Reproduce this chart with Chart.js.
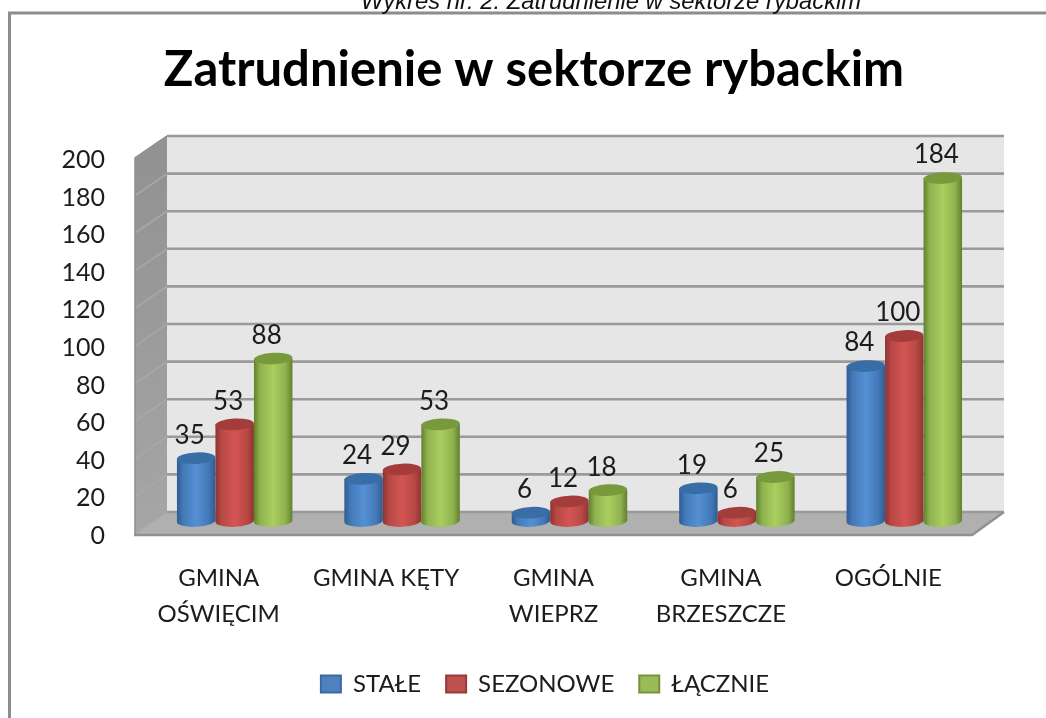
<!DOCTYPE html>
<html><head><meta charset="utf-8">
<style>
html,body{margin:0;padding:0;background:#fff;width:1046px;height:718px;overflow:hidden}
#cap{position:absolute;left:0;top:-11px;width:1046px;text-align:center;font:italic 23.8px/24px "Liberation Sans",sans-serif;color:#111;white-space:nowrap;transform:translateX(88px);filter:blur(0.4px)}
canvas{display:block;position:absolute;left:0;top:0;filter:blur(0.6px)}
</style>
<script src="https://cdn.jsdelivr.net/npm/chart.js@4"></script>
</head><body>
<canvas id="c" width="1046" height="718"></canvas>
<div id="cap">Wykres nr. 2: Zatrudnienie w sektorze rybackim</div>
<script>
const categories = [['GMINA','OŚWIĘCIM'],['GMINA KĘTY'],['GMINA','WIEPRZ'],['GMINA','BRZESZCZE'],['OGÓLNIE']];
const stale = [35,24,6,19,84];
const sezonowe = [53,29,12,6,100];
const lacznie = [88,53,18,25,184];
const seriesNames = ['STAŁE','SEZONOWE','ŁĄCZNIE'];
const yTicks = {min:0,max:200,step:20};
const titleText = 'Zatrudnienie w sektorze rybackim';

const palette = [
  {fill:'#4f81bd',border:'#3a6aa3',dark:'#2f5c92',mid:'#4479b8',light:'#5590d4',top:'#396da6'},
  {fill:'#c0504d',border:'#98393a',dark:'#8c3431',mid:'#b84845',light:'#d25553',top:'#a33d3b'},
  {fill:'#9bbb59',border:'#76923c',dark:'#62802e',mid:'#90b24f',light:'#abce60',top:'#789a3d'}
];
const F=-2, DX=32, DY=-22+F, MX=16, MY=-10+F, BASEY=-13+F, RY=5.8, TILT=-0.05;

const scene = {
  id:'scene',
  afterLayout(chart){
    if(chart.titleBlock){chart.titleBlock.left+=48;chart.titleBlock.right+=48;}
    if(chart.legend){chart.legend.left+=59;chart.legend.right+=59;}
  },
  beforeDraw(chart){
    const c=chart.ctx; c.save();
    c.fillStyle='#fff'; c.fillRect(0,0,chart.width,chart.height);
    c.strokeStyle='#8c8c8c'; c.lineWidth=3;
    c.beginPath(); c.moveTo(9.5,730); c.lineTo(9.5,13); c.lineTo(1046,13); c.stroke();
    c.restore();
  },
  beforeDatasetsDraw(chart){
    const c=chart.ctx, y=chart.scales.y, a=chart.chartArea;
    const yT=y.getPixelForValue(yTicks.max), y0=y.getPixelForValue(yTicks.min);
    const fT=yT+F, f0=y0+F;
    c.save();
    c.fillStyle='#e6e6e6';
    c.fillRect(a.left+DX,yT+DY,a.right-a.left,y0-yT);
    const g=c.createLinearGradient(0,yT,0,y0);
    g.addColorStop(0,'#929292'); g.addColorStop(1,'#a6a6a6');
    c.fillStyle=g;
    c.beginPath(); c.moveTo(a.left,fT); c.lineTo(a.left+DX,yT+DY); c.lineTo(a.left+DX,y0+DY); c.lineTo(a.left,f0); c.closePath(); c.fill();
    c.fillStyle='#b0b0b0';
    c.beginPath(); c.moveTo(a.left+DX,y0+DY); c.lineTo(a.right+DX,y0+DY); c.lineTo(a.right,f0); c.lineTo(a.left,f0); c.closePath(); c.fill();
    y.ticks.forEach(t=>{
      const p=y.getPixelForValue(t.value);
      c.strokeStyle='#a9a9a9'; c.lineWidth=1.5;
      c.beginPath(); c.moveTo(a.left,p+F); c.lineTo(a.left+DX,p+DY); c.stroke();
      c.strokeStyle='#9a9a9a'; c.lineWidth=2.6;
      c.beginPath(); c.moveTo(a.left+DX,p+DY); c.lineTo(a.right+DX,p+DY); c.stroke();
    });
    c.strokeStyle='#919191'; c.lineWidth=2.6;
    c.beginPath(); c.moveTo(a.left-1,f0+1); c.lineTo(a.right,f0+1); c.lineTo(a.right+DX,y0+DY); c.stroke();
    c.lineWidth=1.5; c.strokeStyle='#8f8f8f';
    c.beginPath(); c.moveTo(a.left,f0); c.lineTo(a.left,fT); c.lineTo(a.left+DX,yT+DY); c.stroke();
    c.restore();
  },
  beforeDatasetDraw(){ return false; },
  afterDatasetsDraw(chart){
    const c=chart.ctx;
    c.save();
    chart.data.datasets.forEach((ds,i)=>{
      const p=palette[i];
      chart.getDatasetMeta(i).data.forEach(bar=>{
        const cx=bar.x+MX, w=bar.width, top=bar.y+MY, base=bar.base+BASEY, l=cx-w/2, r=cx+w/2;
        const g=c.createLinearGradient(l,0,r,0);
        g.addColorStop(0,p.dark); g.addColorStop(.16,p.mid); g.addColorStop(.5,p.light); g.addColorStop(.82,p.mid); g.addColorStop(1,p.dark);
        c.fillStyle=g;
        c.beginPath(); c.moveTo(l,top); c.lineTo(l,base);
        c.ellipse(cx,base,w/2,RY,TILT,Math.PI,0,true);
        c.lineTo(r,top); c.closePath(); c.fill();
        c.fillStyle=p.top;
        c.beginPath(); c.ellipse(cx,top,w/2,RY,TILT,0,Math.PI*2); c.fill();
      });
    });
    c.fillStyle='#1c1c1c'; c.font='26px Lato'; c.textAlign='center'; c.textBaseline='middle';
    chart.data.datasets.forEach((ds,i)=>{
      chart.getDatasetMeta(i).data.forEach((bar,j)=>{
        c.fillText(String(ds.data[j]),bar.x+MX-6.5,bar.y+MY-23);
      });
    });
    c.restore();
  }
};

new Chart(document.getElementById('c'),{
  type:'bar',
  plugins:[scene],
  data:{labels:categories,datasets:[
    {label:seriesNames[0],data:stale,backgroundColor:palette[0].fill,borderColor:palette[0].border,borderWidth:2},
    {label:seriesNames[1],data:sezonowe,backgroundColor:palette[1].fill,borderColor:palette[1].border,borderWidth:2},
    {label:seriesNames[2],data:lacznie,backgroundColor:palette[2].fill,borderColor:palette[2].border,borderWidth:2}
  ]},
  options:{
    responsive:false,animation:false,devicePixelRatio:1,
    layout:{padding:{left:0,right:74,top:0,bottom:12}},
    datasets:{bar:{categoryPercentage:0.69,barPercentage:1}},
    scales:{
      x:{grid:{display:false,drawTicks:false},border:{display:false},
         ticks:{color:'#1c1c1c',font:{family:'Lato',size:24,lineHeight:1.5},padding:24,autoSkip:false,maxRotation:0,minRotation:0},
         afterFit(s){s.height=111;}},
      y:{min:yTicks.min,max:yTicks.max,grid:{display:false,drawTicks:false},border:{display:false},
         ticks:{stepSize:yTicks.step,color:'#1c1c1c',font:{family:'Lato',size:25},padding:30},
         afterFit(s){s.width=135;}}
    },
    plugins:{
      title:{display:true,text:titleText,color:'#000',font:{family:'Lato',size:49,weight:'bold',lineHeight:1.2},padding:{top:41,bottom:60.2}},
      legend:{position:'bottom',labels:{color:'#1c1c1c',font:{family:'Lato',size:24},boxWidth:20,boxHeight:17,padding:25}},
      tooltip:{enabled:false}
    }
  }
});
</script>
</body></html>
